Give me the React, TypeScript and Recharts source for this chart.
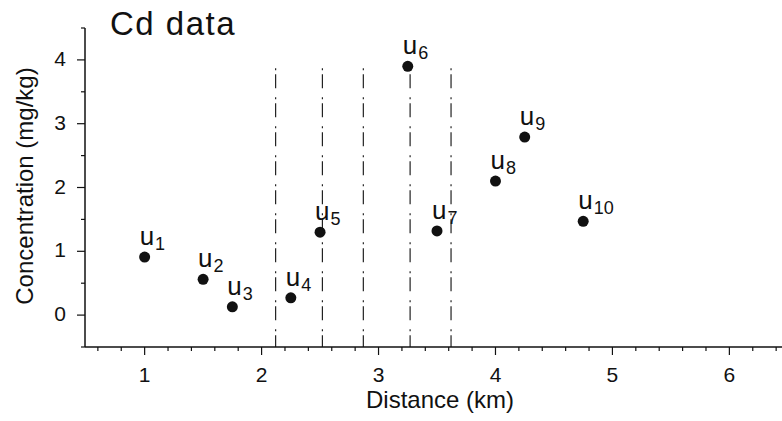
import { ScatterChart, Scatter, XAxis, YAxis, ReferenceLine } from 'recharts'

const FONT = '"Liberation Sans", Arial, Helvetica, sans-serif'
const INK = '#111'

// sample positions along the transect (km) and Cd concentration (mg/kg)
const DIST = [1.0, 1.5, 1.75, 2.25, 2.5, 3.25, 3.5, 4.0, 4.25, 4.75]
const CONC = [0.91, 0.56, 0.13, 0.27, 1.3, 3.9, 1.32, 2.1, 2.79, 1.47]
const SUBS = ['1', '2', '3', '4', '5', '6', '7', '8', '9', '10']

// dash-dot boundaries
const BOUNDARIES = [2.12, 2.52, 2.87, 3.27, 3.62]
const BOUNDARY_TOP = 3.87

const X_TICKS = [
  0.6, 0.8, 1, 1.2, 1.4, 1.6, 1.8, 2, 2.2, 2.4, 2.6, 2.8, 3, 3.2, 3.4, 3.6,
  3.8, 4, 4.2, 4.4, 4.6, 4.8, 5, 5.2, 5.4, 5.6, 5.8, 6, 6.2, 6.4,
]
const X_LABELS = [1, 2, 3, 4, 5, 6]
const Y_TICKS = [-0.5, 0, 0.5, 1, 1.5, 2, 2.5, 3, 3.5, 4, 4.5]
const Y_LABELS = [0, 1, 2, 3, 4]

const points = DIST.map((d, i) => ({ d, c: CONC[i], sub: SUBS[i] }))

function XTick({ x, y, payload }: any) {
  const v = payload.value
  const major = X_LABELS.includes(v)
  return (
    <g>
      <line x1={x} x2={x} y1={y} y2={y + (major ? 8 : 4)} stroke={INK} strokeWidth={1.2} />
      {major && (
        <text x={x} y={y + 35} textAnchor="middle" fontSize={21} fill={INK} fontFamily={FONT}>
          {v}
        </text>
      )}
    </g>
  )
}

function YTick({ x, y, payload }: any) {
  const v = payload.value
  const major = Y_LABELS.includes(v)
  return (
    <g>
      <line x1={x} x2={x - (major ? 8 : 4)} y1={y} y2={y} stroke={INK} strokeWidth={1.2} />
      {major && (
        <text x={x - 19} y={y + 6} textAnchor="end" fontSize={21} fill={INK} fontFamily={FONT}>
          {v}
        </text>
      )}
    </g>
  )
}

function Point(props: any) {
  const { cx, cy, payload } = props
  return (
    <g>
      <circle cx={cx} cy={cy} r={5.5} fill={INK} />
      <text x={cx - 5} y={cy - 12} fontSize={26} fill={INK} fontFamily={FONT}>
        u
        <tspan fontSize={18} dx={1} dy={5}>{payload.sub}</tspan>
      </text>
    </g>
  )
}

export default function App() {
  return (
    <div style={{ position: 'absolute', left: 0, top: 0, width: 782, height: 421, background: '#fff' }}>
      <ScatterChart width={782} height={421} margin={{ top: 28, right: 0, bottom: 0, left: 0 }}>
        <XAxis
          type="number"
          dataKey="d"
          domain={[0.49, 6.45]}
          ticks={X_TICKS}
          interval={0}
          tickSize={0}
          tickMargin={0}
          tick={<XTick />}
          height={74}
          axisLine={{ stroke: INK, strokeWidth: 1.5 }}
          allowDataOverflow
        />
        <YAxis
          type="number"
          dataKey="c"
          domain={[-0.5, 4.5]}
          ticks={Y_TICKS}
          interval={0}
          tickSize={0}
          tickMargin={0}
          tick={<YTick />}
          width={85}
          axisLine={{ stroke: INK, strokeWidth: 1.5 }}
          allowDataOverflow
        />
        {BOUNDARIES.map((b) => (
          <ReferenceLine
            key={b}
            segment={[{ x: b, y: BOUNDARY_TOP }, { x: b, y: -0.5 }]}
            stroke="#222"
            strokeWidth={1.2}
            strokeDasharray="2 4 14 9"
          />
        ))}
        <Scatter data={points} shape={<Point />} isAnimationActive={false} />
      </ScatterChart>
      <svg width={782} height={421} style={{ position: 'absolute', left: 0, top: 0, pointerEvents: 'none' }}>
        <text x={110} y={35} fontSize={33} letterSpacing={1.5} fill={INK} fontFamily={FONT}>
          Cd data
        </text>
        <text x={440} y={408} textAnchor="middle" fontSize={24} fill={INK} fontFamily={FONT}>
          Distance (km)
        </text>
        <text
          x={33}
          y={186}
          textAnchor="middle"
          fontSize={24}
          fill={INK}
          fontFamily={FONT}
          transform="rotate(-90, 33, 186)"
        >
          Concentration (mg/kg)
        </text>
      </svg>
    </div>
  )
}
